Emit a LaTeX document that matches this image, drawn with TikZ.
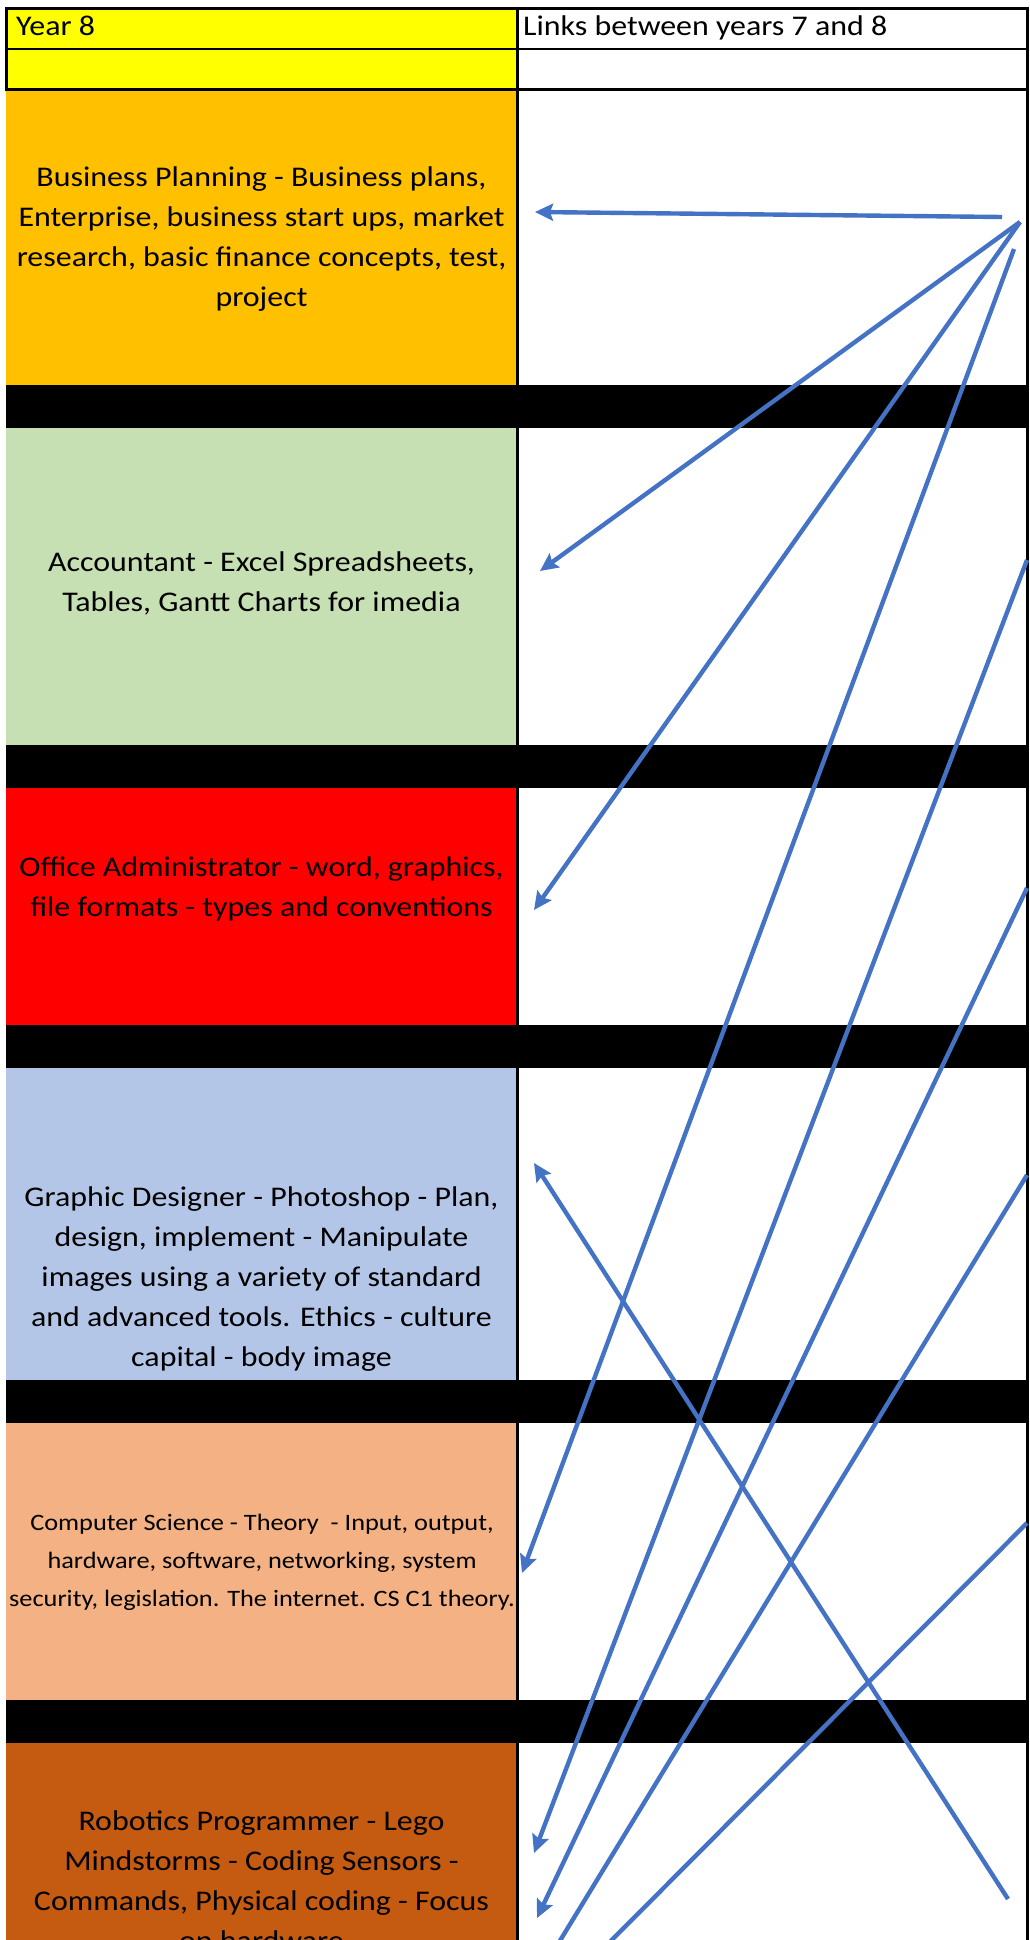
\documentclass[tikz,border=0pt]{standalone}
\usepackage{fontspec}
\setmainfont[FakeStretch=1.12]{Carlito}
\usetikzlibrary{arrows.meta}
\definecolor{cyellow}{HTML}{FFFF00}
\definecolor{cbiz}{HTML}{FFC000}
\definecolor{cacc}{HTML}{C6E0B4}
\definecolor{coff}{HTML}{FF0000}
\definecolor{cgd}{HTML}{B4C6E7}
\definecolor{ccs}{HTML}{F4B183}
\definecolor{crob}{HTML}{C55A11}
\definecolor{cblue}{HTML}{4472C4}
\begin{document}
\begin{tikzpicture}[x=1pt,y=-1pt,
  txt/.style={align=center, inner sep=0pt, font=\fontsize{28.5}{40}\selectfont},
  smalltxt/.style={align=center, inner sep=0pt, font=\fontsize{23.5}{38}\selectfont},
  headtxt/.style={anchor=base west, inner sep=0pt, font=\fontsize{28.5}{40}\selectfont},
  link/.style={draw=cblue, line width=4.4pt, -{Stealth[length=18pt,width=17pt,inset=3pt]}},
  plainlink/.style={draw=cblue, line width=4.4pt},
  gridline/.style={draw=black, line width=2.6pt},
  blackbar/.style={fill=black}]
\useasboundingbox (0,0) rectangle (1029,1940);
\begin{scope}
\clip (0,0) rectangle (1029,1940);
\fill[white] (0,0) rectangle (1029,1940);
% left column cells
\fill[cyellow] (6,8) rectangle (517,89);
\fill[cbiz] (6,89) rectangle (517,385);
\fill[cacc] (6,428) rectangle (517,745);
\fill[coff] (6,788) rectangle (517,1025);
\fill[cgd] (6,1068) rectangle (517,1380);
\fill[ccs] (6,1423) rectangle (517,1700);
\fill[crob] (6,1743) rectangle (517,1960);
% black separator bars
\fill[blackbar] (6,385) rectangle (1029,428);
\fill[blackbar] (6,745) rectangle (1029,788);
\fill[blackbar] (6,1025) rectangle (1029,1068);
\fill[blackbar] (6,1380) rectangle (1029,1423);
\fill[blackbar] (6,1700) rectangle (1029,1743);
% grid lines
\draw[gridline] (5,8.3) -- (1029,8.3);
\draw[gridline] (5,49) -- (1029,49);
\draw[gridline] (5,89.5) -- (1029,89.5);
\draw[gridline] (6.5,7) -- (6.5,90);
\draw[gridline] (517.3,7) -- (517.3,1960);
\draw[gridline] (1027.6,7) -- (1027.6,1960);
% texts
\node[headtxt] (year) at (16,36) {Year 8};
\node[headtxt] (links) at (523,36) {Links between years 7 and 8};
\node[txt] (bp) at (261.5,239) {Business Planning - Business plans,\\Enterprise, business start ups, market\\research, basic finance concepts, test,\\project};
\node[txt] (acc) at (261.5,583) {Accountant - Excel Spreadsheets,\\Tables, Gantt Charts for imedia};
\node[txt] (off) at (261.5,889) {Office Administrator - word, graphics,\\file formats - types and conventions};
\node[txt] (gd) at (261.5,1279) {Graphic Designer - Photoshop - Plan,\\design, implement - Manipulate\\images using a variety of standard\\and advanced tools. Ethics - culture\\capital - body image};
\node[smalltxt] (cs) at (262,1562) {Computer Science - Theory\ \ - Input, output,\\hardware, software, networking, system\\security, legislation. The internet. CS C1 theory.};
\node[txt] (rob) at (261.5,1881) {Robotics Programmer - Lego\\Mindstorms - Coding Sensors -\\Commands, Physical coding - Focus\\on hardware};
% connector end points
\coordinate (aS) at (1002,217);
\coordinate (aE) at (535,212);
\coordinate (apex) at (1020,222);
\coordinate (bE) at (540,571);
\coordinate (cE) at (534,910);
\coordinate (dS) at (1014,249);
\coordinate (dE) at (522,1573);
\coordinate (eS) at (1027,560);
\coordinate (eE) at (534,1853);
\coordinate (fS) at (1027,888);
\coordinate (fE) at (537,1918);
\coordinate (gS) at (1027,1175);
\coordinate (gE) at (536,1980);
\coordinate (hS) at (1027,1523);
\coordinate (hE) at (572,1980);
\coordinate (iS) at (1008,1899);
\coordinate (iE) at (534,1163);
% connectors
\draw[link] (aS) -- (aE);
\draw[link] (apex) -- (bE);
\draw[link] (apex) -- (cE);
\draw[link] (dS) -- (dE);
\draw[link] (eS) -- (eE);
\draw[link] (fS) -- (fE);
\draw[plainlink] (gS) -- (gE);
\draw[plainlink] (hS) -- (hE);
\draw[link] (iS) -- (iE);
\end{scope}
\end{tikzpicture}
\end{document}
